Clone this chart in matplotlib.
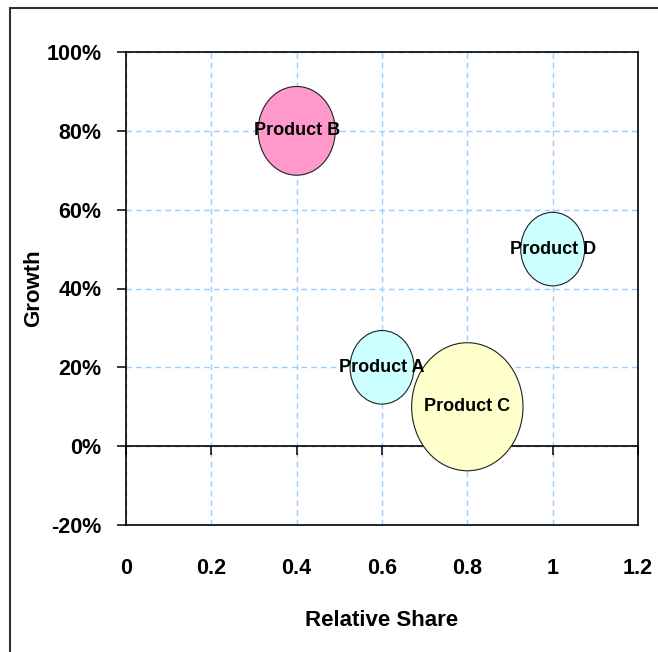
import matplotlib
matplotlib.use('Agg')
import matplotlib.pyplot as plt
import numpy as np
from matplotlib.path import Path
from matplotlib.markers import MarkerStyle
from matplotlib.ticker import PercentFormatter, FuncFormatter
from matplotlib.patches import Rectangle

plt.rcParams['font.family'] = ['Liberation Sans', 'DejaVu Sans']
plt.rcParams['font.weight'] = 'bold'
plt.rcParams['axes.unicode_minus'] = False

# bubble data
products = ['Product A', 'Product B', 'Product C', 'Product D']
share = [0.6, 0.4, 0.8, 1.0]
growth = [0.2, 0.8, 0.1, 0.5]
bubble_size = [33, 48, 100, 33]
colours = ['#CCFFFF', '#FF99CC', '#FFFFCC', '#CCFFFF']

x_ticks = [0, 0.2, 0.4, 0.6, 0.8, 1.0, 1.2]
y_ticks = [-0.2, 0, 0.2, 0.4, 0.6, 0.8, 1.0]

fig = plt.figure(figsize=(6.58, 6.52), dpi=100)
ax = fig.add_axes([126/658, 1-525/652, 512/658, 473/652])

# outer chart frame (left and top edges only show)
fig.patches.append(Rectangle((9.5/658, -0.1), 1.2, 1.1 - 7.5/652,
                             transform=fig.transFigure, fill=False,
                             edgecolor='#303030', linewidth=1.5))

# slightly tall ellipse as the bubble marker
circ = Path.unit_circle()
ell = Path(circ.vertices * np.array([1.0, 1.15]), circ.codes)
marker = MarkerStyle(ell)

sizes = [s * 85 for s in bubble_size]
ax.scatter(share, growth, s=sizes, c=colours, marker=marker,
           edgecolors='#202020', linewidths=0.8, zorder=2)

for name, x, y in zip(products, share, growth):
    ax.text(x, y, name, ha='center', va='center', fontsize=13,
            fontweight='bold', zorder=3)

ax.set_xlim(x_ticks[0], x_ticks[-1])
ax.set_ylim(y_ticks[0], y_ticks[-1])
ax.set_xticks(x_ticks)
ax.set_yticks(y_ticks)
ax.xaxis.set_major_formatter(FuncFormatter(lambda v, p: '{:g}'.format(round(v, 2))))
ax.yaxis.set_major_formatter(PercentFormatter(xmax=1, decimals=0))

ax.set_axisbelow(True)
ax.grid(True, color='#99CCFF', linestyle=(0, (4, 3)), linewidth=1.0)

for sp in ax.spines.values():
    sp.set_linewidth(1.2)
    sp.set_color('black')

ax.tick_params(axis='x', length=0, pad=24, labelsize=15.5)
ax.tick_params(axis='y', length=6.5, width=1.1, direction='out', pad=11,
               labelsize=15.5)

# horizontal axis line at zero with its own ticks
zero_frac = (0 - y_ticks[0]) / (y_ticks[-1] - y_ticks[0])
sec = ax.secondary_xaxis(zero_frac)
sec.set_zorder(1)
sec.xaxis.set_ticks_position('bottom')
sec.set_xticks(x_ticks)
sec.tick_params(axis='x', which='both', length=6.5, width=1.1,
                direction='out', labelbottom=False, labeltop=False)
sec.spines['bottom'].set_linewidth(1.2)
sec.spines['bottom'].set_color('black')

ax.set_xlabel('Relative Share', fontsize=16, fontweight='bold', labelpad=22)
ax.set_ylabel('Growth', fontsize=16, fontweight='bold')
ax.yaxis.set_label_coords(-0.16, 0.5)

fig.savefig('out.png', dpi=100)
